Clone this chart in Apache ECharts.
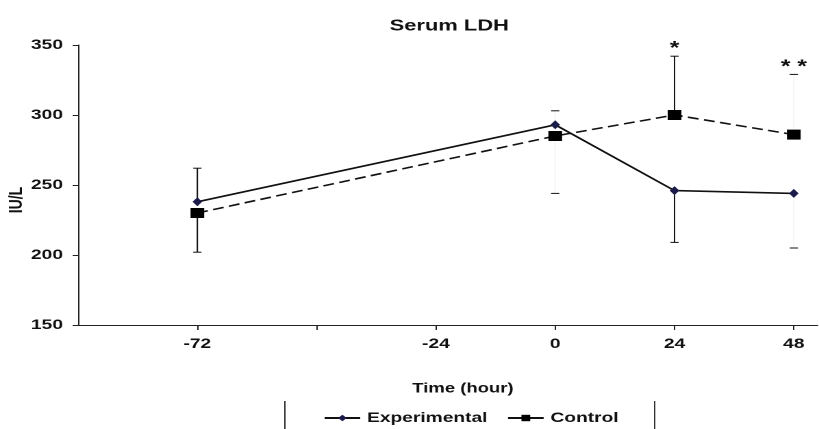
<!DOCTYPE html>
<html>
<head>
<meta charset="utf-8">
<script src="https://cdn.jsdelivr.net/npm/echarts@6/dist/echarts.min.js"></script>
<style>
  html, body { margin: 0; padding: 0; background: #ffffff; overflow: hidden; }
  /* the figure is laid out narrow and printed with a wide horizontal stretch */
  #chart { width: 598px; height: 429px; transform: scaleX(1.3696); transform-origin: 0 0; }
</style>
</head>
<body>
<div id="chart"></div>
<script>
// Slots along the time axis; blank slots get a tick but no label
const timeSlots = ['', '-72', '', '-24', '0', '24', '48'];
const sampleTimes = ['-72', '0', '24', '48'];

// Serum LDH (IU/L)
const experimental = [238, 293, 246, 244];
const control = [230, 285, 300, 286];

// One-sided error bars: positive points up, negative points down
const experimentalErr = [24, 10, -37, -39];
const controlErr = [-28, -41, 42, 43];
// Whether the stem of each error bar is printed solid
const stemShown = [true, false, true, false];

// Significance marks above the control error bars
const significance = ['', '', '*', '* *'];

const yTicks = [150, 200, 250, 300, 350];

const FONT = '"Liberation Sans", Arial, sans-serif';
const INK = '#111111';

const slotOf = t => timeSlots.indexOf(t);

function pointsOf(values) {
  return sampleTimes.map((t, i) => [slotOf(t), values[i]]);
}

function errorBars(id, values, errs) {
  return {
    type: 'custom',
    id: id,
    silent: true,
    z: 1,
    data: sampleTimes.map((t, i) => [slotOf(t), values[i], values[i] + errs[i], i]),
    renderItem(params, api) {
      const x = api.value(0);
      const i = api.value(3);
      const p0 = api.coord([x, api.value(1)]);
      const p1 = api.coord([x, api.value(2)]);
      const half = 3;
      return {
        type: 'group',
        children: [
          {
            type: 'line',
            shape: { x1: p0[0], y1: p0[1], x2: p1[0], y2: p1[1] },
            style: { stroke: stemShown[i] ? INK : '#f7f7f7', lineWidth: 1 }
          },
          {
            type: 'line',
            shape: { x1: p1[0] - half, y1: p1[1], x2: p1[0] + half, y2: p1[1] },
            style: { stroke: INK, lineWidth: 1 }
          }
        ]
      };
    }
  };
}

const chart = echarts.init(document.getElementById('chart'), null, {
  renderer: 'canvas',
  devicePixelRatio: 2
});

chart.setOption({
  animation: false,
  backgroundColor: '#ffffff',
  title: {
    text: 'Serum LDH',
    left: 323,
    top: 13,
    textAlign: 'center',
    textStyle: { fontFamily: FONT, fontSize: 16, fontWeight: 'bold', color: INK }
  },
  grid: { left: 57, right: 1, top: 45, bottom: 104 },
  xAxis: {
    type: 'value',
    min: 0,
    max: 6.2,
    interval: 1,
    splitLine: { show: false },
    axisLine: { lineStyle: { color: '#222', width: 1 } },
    axisTick: {
      length: 5,
      lineStyle: { color: '#222' },
      customValues: [1, 2, 3, 4, 5, 6]
    },
    axisLabel: {
      customValues: [1, 2, 3, 4, 5, 6],
      formatter: v => timeSlots[Math.round(v)] || '',
      margin: 12,
      fontFamily: FONT,
      fontSize: 14,
      fontWeight: 'bold',
      color: INK
    }
  },
  yAxis: {
    type: 'value',
    min: yTicks[0],
    max: yTicks[yTicks.length - 1],
    interval: 50,
    splitLine: { show: false },
    axisLine: { show: true, lineStyle: { color: '#222', width: 1 } },
    axisTick: { show: true, length: 4, lineStyle: { color: '#222' } },
    axisLabel: {
      margin: 11,
      fontFamily: FONT,
      fontSize: 14,
      fontWeight: 'bold',
      color: INK
    }
  },
  legend: {
    data: ['Experimental', 'Control'],
    left: 231,
    top: 406,
    itemWidth: 26,
    itemHeight: 8,
    itemGap: 14,
    textStyle: { fontFamily: FONT, fontSize: 14, fontWeight: 'bold', color: INK },
    lineStyle: { type: 'solid', width: 2 }
  },
  graphic: [
    {
      type: 'text',
      x: 12,
      y: 200,
      rotation: Math.PI / 2,
      style: {
        text: 'IU/L',
        font: 'bold 14px ' + FONT,
        fill: INK,
        align: 'center',
        verticalAlign: 'middle'
      }
    },
    {
      type: 'text',
      x: 338,
      y: 389,
      style: {
        text: 'Time (hour)',
        font: 'bold 13.5px ' + FONT,
        fill: INK,
        align: 'center',
        verticalAlign: 'middle'
      }
    },
    {
      type: 'line',
      shape: { x1: 208, y1: 401, x2: 208, y2: 429 },
      style: { stroke: '#333', lineWidth: 1 }
    },
    {
      type: 'line',
      shape: { x1: 478, y1: 401, x2: 478, y2: 429 },
      style: { stroke: '#333', lineWidth: 1 }
    }
  ],
  series: [
    errorBars('experimental-err', experimental, experimentalErr),
    errorBars('control-err', control, controlErr),
    {
      name: 'Control',
      type: 'line',
      data: pointsOf(control),
      symbol: 'rect',
      symbolSize: 10,
      z: 3,
      itemStyle: { color: '#000000' },
      lineStyle: { color: '#111111', width: 1.6, type: [8, 4] }
    },
    {
      name: 'Experimental',
      type: 'line',
      data: pointsOf(experimental),
      symbol: 'diamond',
      symbolSize: [7, 9],
      z: 4,
      itemStyle: { color: '#1b1b4a' },
      lineStyle: { color: '#111111', width: 1.6 }
    },
    {
      type: 'custom',
      id: 'significance',
      silent: true,
      z: 5,
      data: sampleTimes.map((t, i) => [slotOf(t), control[i] + Math.max(controlErr[i], 0), i]),
      renderItem(params, api) {
        const i = api.value(2);
        const p = api.coord([api.value(0), api.value(1)]);
        return {
          type: 'text',
          x: p[0],
          y: p[1] + 2,
          style: {
            text: significance[i],
            font: 'bold 18px ' + FONT,
            fill: INK,
            align: 'center',
            verticalAlign: 'bottom'
          }
        };
      }
    }
  ]
});
</script>
</body>
</html>
